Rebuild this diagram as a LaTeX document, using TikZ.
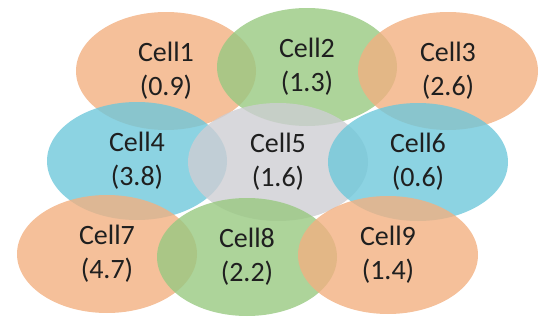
\documentclass[tikz,border=0pt]{standalone}
\usepackage{fontspec}
\setmainfont{Carlito}
\usepackage{tikz}
\usetikzlibrary{shapes.geometric}

\definecolor{cellorange}{HTML}{F2B081}
\definecolor{cellgreen}{HTML}{98C981}
\definecolor{cellblue}{HTML}{6FC8DB}
\definecolor{cellgray}{HTML}{CECED3}

\begin{document}
\begin{tikzpicture}[
  x=1pt, y=-1pt,
  cell/.style={ellipse, draw=none, fill opacity=0.8, text opacity=1, inner sep=0pt,
    minimum width=180pt, minimum height=118pt, align=center,
    font=\fontsize{28}{34}\selectfont, text=black!88}
]
\useasboundingbox (0,0) rectangle (550,327);
% top row
\node[cell, fill=cellorange] (cell1) at (166,71) {Cell1\\(0.9)};
\node[cell, fill=cellgreen]  (cell2) at (307,67) {Cell2\\(1.3)};
\node[cell, fill=cellorange] (cell3) at (448,71) {Cell3\\(2.6)};
% middle row
\node[cell, fill=cellblue]   (cell4) at (137,161) {Cell4\\(3.8)};
\node[cell, fill=cellgray]   (cell5) at (278,162) {Cell5\\(1.6)};
\node[cell, fill=cellblue]   (cell6) at (418,162) {Cell6\\(0.6)};
% bottom row
\node[cell, fill=cellorange] (cell7) at (107,254) {Cell7\\(4.7)};
\node[cell, fill=cellgreen]  (cell8) at (247,257) {Cell8\\(2.2)};
\node[cell, fill=cellorange] (cell9) at (388,255) {Cell9\\(1.4)};
\end{tikzpicture}
\end{document}
